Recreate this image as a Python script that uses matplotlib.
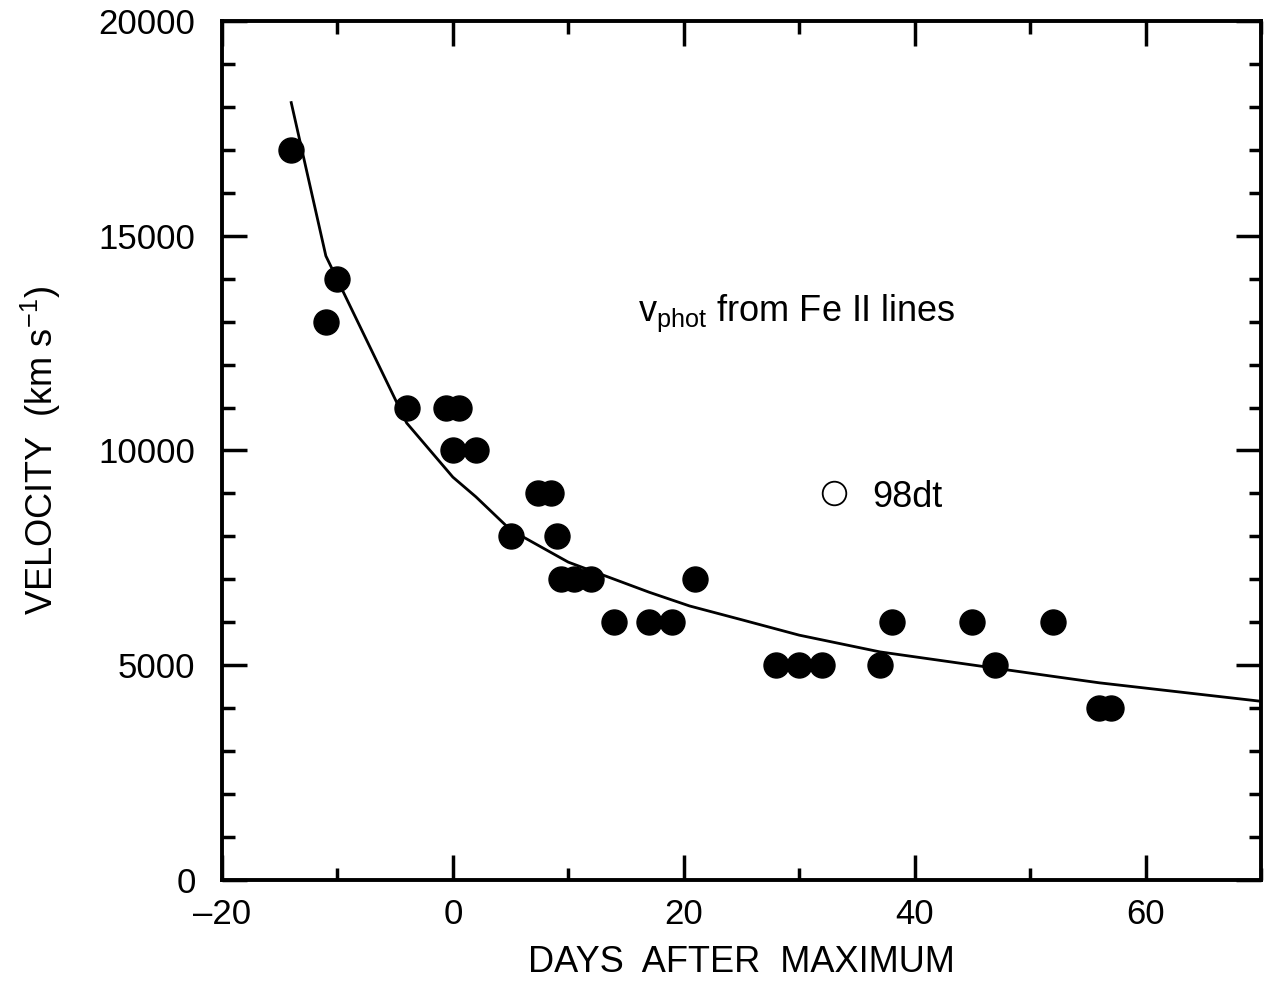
import numpy as np
import matplotlib
matplotlib.use("Agg")
import matplotlib.pyplot as plt
from matplotlib.ticker import MultipleLocator

plt.rcParams['font.family'] = ['Liberation Sans', 'DejaVu Sans']
plt.rcParams['mathtext.fontset'] = 'custom'
plt.rcParams['mathtext.rm'] = 'Liberation Sans'
plt.rcParams['mathtext.it'] = 'Liberation Sans'

# Fe II photospheric velocities (days after max, km/s)
days = [-14, -11, -10, -4, -0.6, 0.5, 0, 2, 5, 7.4, 8.5, 9, 9.4, 10.5, 12,
        14, 17, 19, 21, 28, 30, 32, 37, 38, 45, 47, 52, 56, 57]
vel = [17000, 13000, 14000, 11000, 11000, 11000, 10000, 10000, 8000, 9000, 9000,
       8000, 7000, 7000, 7000, 6000, 6000, 6000, 7000, 5000, 5000, 5000, 5000,
       6000, 6000, 5000, 6000, 4000, 4000]

# fitted curve
curve_days = [-14, -11, -4, 0, 2, 5, 8.4, 10, 17, 20.5, 25, 30, 37, 47, 52, 56, 70]
curve_vel = [18100, 14530, 10640, 9380, 8920, 8150, 7640, 7400, 6700, 6380,
             6060, 5700, 5310, 4930, 4740, 4590, 4160]

# open symbol for 98dt
dt_day = [33]
dt_vel = [9000]

fig = plt.figure(figsize=(12.64, 9.81), dpi=100)
ax = fig.add_axes([0.1756, 0.103, 0.822, 0.8756])

ax.plot(curve_days, curve_vel, color='black', linewidth=2.0, zorder=2)
ax.plot(days, vel, 'o', color='black', markersize=18, zorder=3)
ax.plot(dt_day, dt_vel, 'o', markerfacecolor='white', markeredgecolor='black',
        markeredgewidth=1.3, markersize=17, zorder=3)
ax.text(36.3, 8900, '98dt', fontsize=26, va='center', ha='left')
ax.text(16, 13200, r'v$_{\mathrm{phot}}$ from Fe II lines', fontsize=26,
        va='center', ha='left')

ax.set_xlim(-20, 70)
ax.set_ylim(0, 20000)
ax.xaxis.set_major_locator(MultipleLocator(20))
ax.xaxis.set_minor_locator(MultipleLocator(10))
ax.yaxis.set_major_locator(MultipleLocator(5000))
ax.yaxis.set_minor_locator(MultipleLocator(1000))
ax.xaxis.set_major_formatter(matplotlib.ticker.FuncFormatter(
    lambda v, p: ('\u2013%d' % -v) if v < 0 else '%d' % v))

ax.tick_params(which='both', direction='in', top=True, right=True, width=2.5,
               labelsize=25)
ax.tick_params(axis='x', pad=13)
ax.tick_params(axis='y', pad=19)
ax.tick_params(which='major', length=18)
ax.tick_params(which='minor', length=9)
for s in ax.spines.values():
    s.set_linewidth(2.8)

ax.set_xlabel('DAYS  AFTER  MAXIMUM', fontsize=26, labelpad=10)
ax.set_ylabel(r'VELOCITY  (km s$^{-1}$)', fontsize=26, labelpad=26)

fig.savefig('out.png', dpi=100)
